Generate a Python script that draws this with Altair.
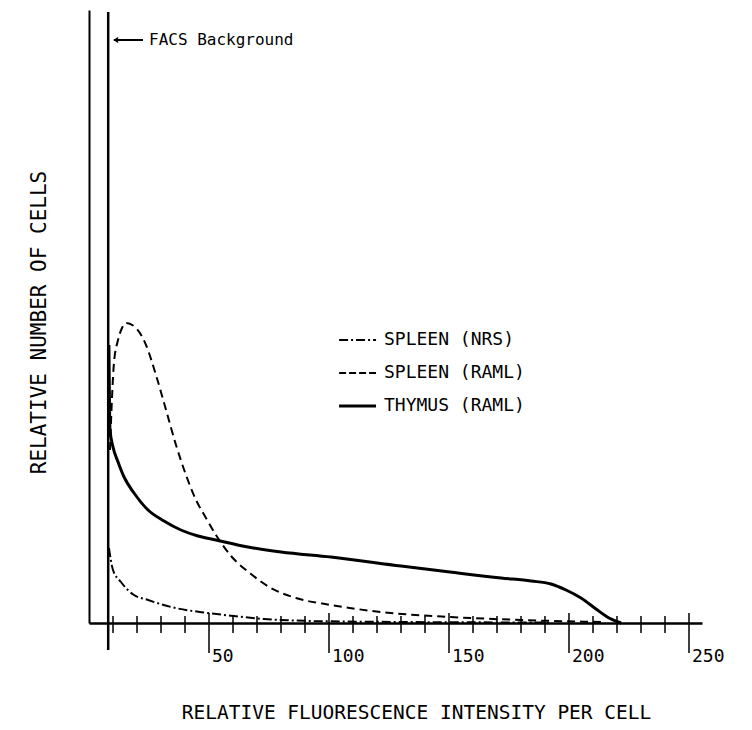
import altair as alt
import pandas as pd

FONT = "DejaVu Sans Mono"

# ---- data (x = fluorescence, y = relative cells, arbitrary units) ----
thymus_x = [8.3, 8.75, 10, 12.1, 14.6, 18.75, 24.6, 31.25, 38.3, 45.4, 52.9, 66.25, 80, 100.8,
            130, 150.4, 171.7, 184.2, 192.5, 198.75, 205, 211.25, 216.7, 221.7]
thymus_y = [278, 193, 176, 161, 146, 130, 113, 102, 93, 87, 83, 76, 71, 66,
            57, 51, 45, 42, 39, 33, 25, 14, 5, 0]

raml_x = [8.75, 9.2, 9.6, 10.4, 12.1, 13.75, 15.4, 19.6, 23.75, 27.9, 32.1, 36.25, 40.4, 44.6,
          48.75, 52.9, 59.2, 67.5, 75.8, 86.25, 100.8, 121.7, 150.8, 180, 213.3]
raml_y = [173, 203, 226, 260, 283, 295, 300, 295, 278, 248, 213, 178, 148, 123,
          105, 88, 67, 49, 35, 25, 18, 11, 6, 3, 1]

nrs_x = [8.3, 10, 13.3, 18.75, 24.6, 34.2, 49.6, 60.4, 72.9, 93.75, 130, 192.5]
nrs_y = [75, 53, 41, 28, 23, 16, 10, 7, 4, 2, 1, 0.5]

facs_x = 8.0
minor_ticks = [10, 20, 30, 40, 60, 70, 80, 90, 110, 120, 130, 140, 160, 170, 180, 190,
               210, 220, 230, 240]
major_ticks = [50, 100, 150, 200, 250]
tick_labels = ["50", "100", "150", "200", "250"]

legend_names = ["SPLEEN (NRS)", "SPLEEN (RAML)", "THYMUS (RAML)"]
legend_rows = [283, 250, 217]

x_title = "RELATIVE FLUORESCENCE INTENSITY PER CELL"
y_title = "RELATIVE NUMBER OF CELLS"
facs_label = "FACS Background"

# ---- scales / axes ----
xs = alt.Scale(domain=[0, 255.42], nice=False, zero=False)
ys = alt.Scale(domain=[0, 613], nice=False, zero=False)
xaxis = alt.Axis(domain=True, domainColor="black", domainWidth=2.5, ticks=False, labels=False,
                 grid=False, title=x_title, titleFont=FONT, titleFontSize=19.5,
                 titleFontWeight="normal", titleColor="black", titleX=327, titleY=95,
                 titleBaseline="alphabetic", titleAlign="center")
yaxis = alt.Axis(domain=True, domainColor="black", domainWidth=2, ticks=False, labels=False,
                 grid=False, title=y_title, titleFont=FONT, titleFontSize=21,
                 titleFontWeight="normal", titleColor="black", titleX=-44, titleY=312,
                 titleAngle=270, titleBaseline="alphabetic", titleAlign="center")


def X(f="v"):
    return alt.X(f"{f}:Q", scale=xs, axis=xaxis)


def Y(f="h"):
    return alt.Y(f"{f}:Q", scale=ys, axis=yaxis)


thy = pd.DataFrame({"v": thymus_x, "h": thymus_y})
raml = pd.DataFrame({"v": raml_x, "h": raml_y})
nrs = pd.DataFrame({"v": nrs_x, "h": nrs_y})

l_thy = alt.Chart(thy).mark_line(color="black", strokeWidth=3, interpolate="monotone").encode(x=X(), y=Y())
l_raml = alt.Chart(raml).mark_line(color="black", strokeWidth=2, strokeDash=[8, 5],
                                   interpolate="monotone").encode(x=X(), y=Y())
l_nrs = alt.Chart(nrs).mark_line(color="black", strokeWidth=2, strokeDash=[9, 3, 2, 3],
                                 interpolate="monotone").encode(x=X(), y=Y())

facs = alt.Chart(pd.DataFrame({"v": [facs_x], "h": [611], "h2": [-27]})).mark_rule(
    color="black", strokeWidth=2.5).encode(x=X(), y=Y(), y2="h2:Q")

minor = alt.Chart(pd.DataFrame({"v": minor_ticks, "h": [7] * len(minor_ticks),
                                "h2": [-10] * len(minor_ticks)})).mark_rule(
    color="black", strokeWidth=1.5).encode(x=X(), y=Y(), y2="h2:Q")
major = alt.Chart(pd.DataFrame({"v": major_ticks, "h": [10] * 5, "h2": [-30] * 5})).mark_rule(
    color="black", strokeWidth=1.5).encode(x=X(), y=Y(), y2="h2:Q")
labels = alt.Chart(pd.DataFrame({"v": major_ticks, "h": [-39] * 5, "t": tick_labels})).mark_text(
    align="left", baseline="alphabetic", dx=3, font=FONT, fontSize=18, color="black").encode(
    x=X(), y=Y(), text="t:N")

# FACS annotation arrow + text
arrow = alt.Chart(pd.DataFrame({"v": [10.4], "v2": [22.5], "h": [583]})).mark_rule(
    color="black", strokeWidth=2).encode(x=X(), x2="v2:Q", y=Y())
head = alt.Chart(pd.DataFrame({"v": [11.1], "h": [583]})).mark_point(
    shape="triangle-left", filled=True, color="black", size=35, opacity=1).encode(x=X(), y=Y())
facs_txt = alt.Chart(pd.DataFrame({"v": [25], "h": [583], "t": [facs_label]})).mark_text(
    align="left", baseline="middle", font=FONT, fontSize=16, color="black").encode(
    x=X(), y=Y(), text="t:N")

# legend (manual)
lg_x1, lg_x2, lg_tx = 104.2, 119.6, 122.9
leg_nrs = alt.Chart(pd.DataFrame({"v": [lg_x1], "v2": [lg_x2], "h": [legend_rows[0]]})).mark_rule(
    color="black", strokeWidth=2, strokeDash=[9, 3, 2, 3]).encode(x=X(), x2="v2:Q", y=Y())
leg_raml = alt.Chart(pd.DataFrame({"v": [lg_x1], "v2": [lg_x2], "h": [legend_rows[1]]})).mark_rule(
    color="black", strokeWidth=2, strokeDash=[7, 3]).encode(x=X(), x2="v2:Q", y=Y())
leg_thy = alt.Chart(pd.DataFrame({"v": [lg_x1], "v2": [lg_x2], "h": [legend_rows[2]]})).mark_rule(
    color="black", strokeWidth=3).encode(x=X(), x2="v2:Q", y=Y())
leg_txt = alt.Chart(pd.DataFrame({"v": [lg_tx] * 3, "h": legend_rows, "t": legend_names})).mark_text(
    align="left", baseline="middle", font=FONT, fontSize=18, color="black").encode(
    x=X(), y=Y(), text="t:N")

chart = alt.layer(
    l_thy, l_raml, l_nrs, facs, minor, major, labels, arrow, head, facs_txt,
    leg_nrs, leg_raml, leg_thy, leg_txt
).properties(
    width=613, height=613,
    autosize=alt.AutoSizeParams(type="none"),
    padding={"left": 81, "top": 2, "right": 42, "bottom": 99},
    background="white",
).configure_view(stroke=None)

chart.save("out.html", embed_options={"renderer": "svg", "actions": False})
